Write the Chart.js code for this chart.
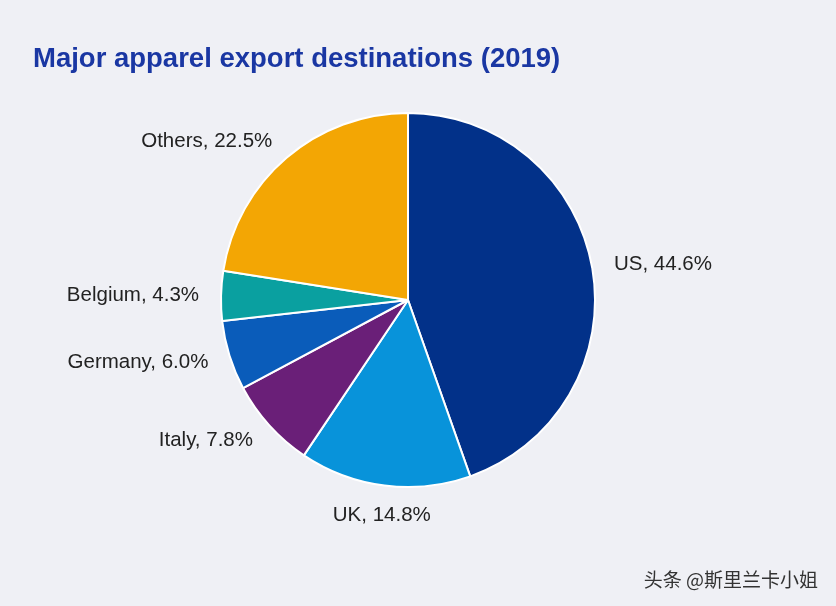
<!DOCTYPE html>
<html><head><meta charset="utf-8">
<script src="https://cdn.jsdelivr.net/npm/chart.js@4/dist/chart.umd.min.js"></script>
<style>
html,body{margin:0;padding:0;background:#eff0f5;}
#wrap{position:relative;width:836px;height:606px;}
#t{position:absolute;left:33px;top:42px;font:bold 27.5px "Liberation Sans",Arial,sans-serif;color:#1a37a3;}
#w{position:absolute;right:18px;bottom:14px;font:19px "Noto Sans CJK SC",sans-serif;color:#333;}
</style></head><body>
<div id="wrap"><div id="t">Major apparel export destinations (2019)</div>
<canvas id="c" width="836" height="606"></canvas>
<div id="w">头条 @斯里兰卡小姐</div></div>
<script>
const categories=["US","UK","Italy","Germany","Belgium","Others"];
const values=[44.6,14.8,7.8,6.0,4.3,22.5];
const colors=["#023189","#0893da","#6a1f78","#0a5cba","#0aa0a0","#f3a604"];
const labelPlugin={id:'lbl',afterDatasetsDraw(chart){
 const ctx=chart.ctx;const meta=chart.getDatasetMeta(0);
 ctx.save();ctx.font='20.5px "Liberation Sans",Arial,sans-serif';ctx.fillStyle='#222';ctx.textBaseline='middle';
 meta.data.forEach((arc,i)=>{
  const a=(arc.startAngle+arc.endAngle)/2;const r=arc.outerRadius+22;
  const x=arc.x+Math.cos(a)*r,y=arc.y+Math.sin(a)*r;
  const dx=Math.cos(a);
  ctx.textAlign=dx>0.3?'left':(dx<-0.3?'right':'center');
  ctx.fillText(categories[i]+', '+values[i].toFixed(1)+'%',x,y+(dx>-0.3&&dx<0.3?8:0));
 });ctx.restore();}};
new Chart(document.getElementById('c'),{type:'pie',
 data:{labels:categories,datasets:[{data:values,backgroundColor:colors,borderColor:'#ffffff',borderWidth:2}]},
 options:{responsive:false,animation:false,layout:{padding:{top:112,bottom:118,left:100,right:120}},
  plugins:{legend:{display:false},tooltip:{enabled:false}}},
 plugins:[labelPlugin]});
</script></body></html>
